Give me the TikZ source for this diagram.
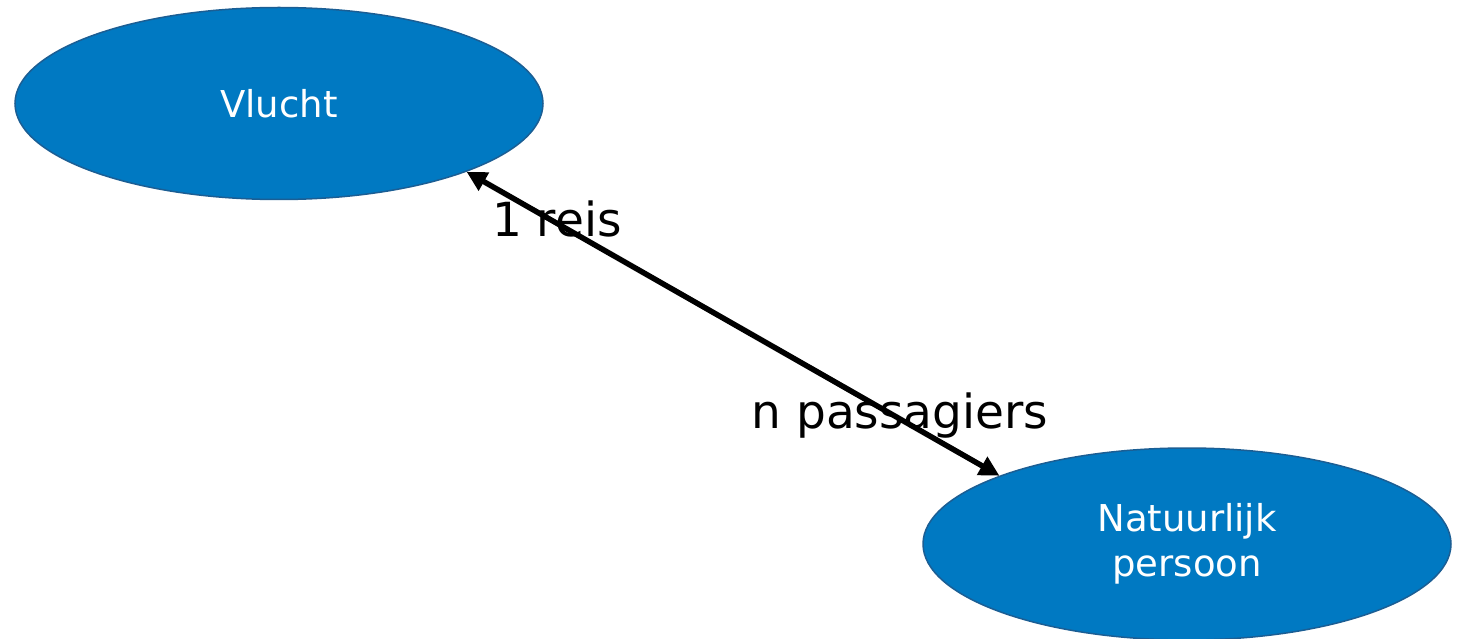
\documentclass[tikz,border=0pt]{standalone}
\usepackage{fontspec}
\setmainfont{DejaVu Sans}
\usetikzlibrary{shapes.geometric,arrows.meta}
\definecolor{entityfill}{HTML}{0079C2}
\definecolor{entityline}{HTML}{1B5E94}
\begin{document}
\begin{tikzpicture}[x=1pt,y=-1pt,
  entity/.style={ellipse,fill=entityfill,draw=entityline,line width=1.5pt,
    minimum width=528pt,minimum height=192pt,inner sep=0pt,
    text=white,font=\fontsize{37}{45}\selectfont,align=center},
  relation/.style={line width=5.5pt,{Triangle[length=20pt,width=20pt]}-{Triangle[length=20pt,width=20pt]}},
  card/.style={font=\fontsize{47}{50}\selectfont,anchor=base}]
\useasboundingbox (0,0) rectangle (1468,639);
\node[entity] (vlucht) at (279,103.5) {Vlucht};
\node[entity] (persoon) at (1187,544) {Natuurlijk\\persoon};
\draw[relation] (vlucht.-20) -- (persoon.160.5);
\node[card] (reis) at (557,237) {1 reis};
\node[card] (pass) at (900,428) {n passagiers};
\end{tikzpicture}
\end{document}
